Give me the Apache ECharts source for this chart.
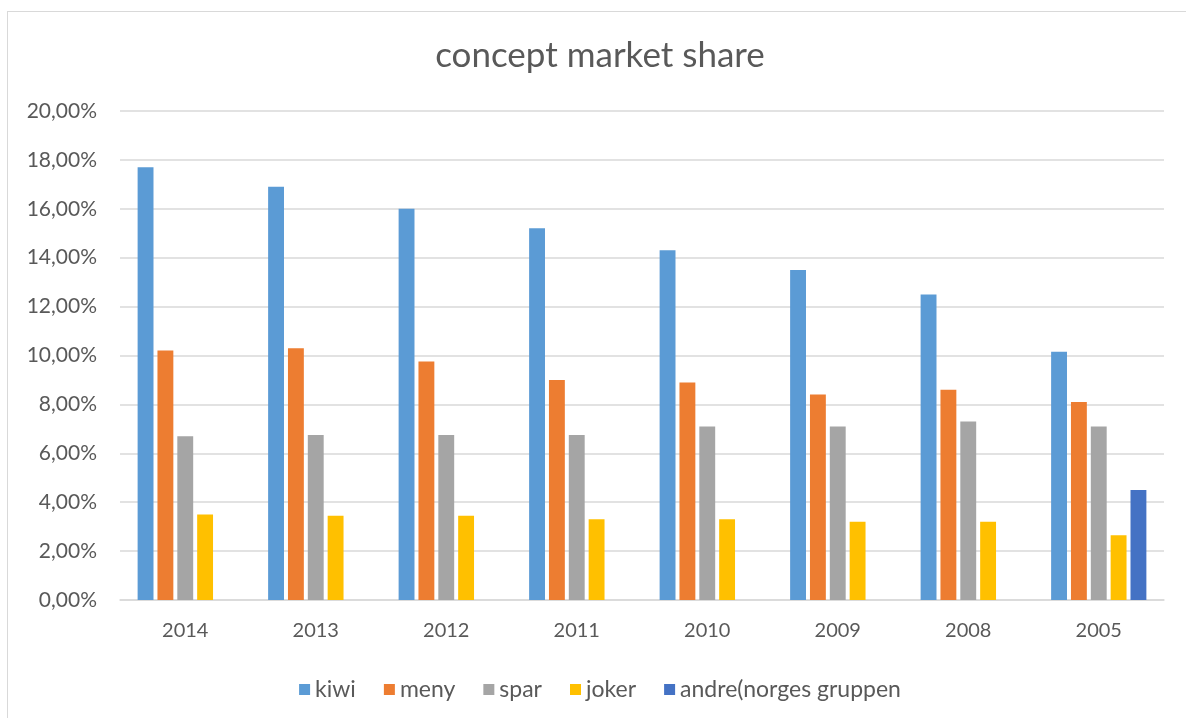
<!DOCTYPE html>
<html>
<head>
<meta charset="utf-8">
<script src="https://cdn.jsdelivr.net/npm/echarts@6/dist/echarts.min.js"></script>
<style>
  html, body { margin: 0; padding: 0; background: #fff; overflow: hidden; }
  #chart { position: absolute; left: 7px; top: 11px; width: 1186px; height: 718px; border: 1px solid #d9d9d9; box-sizing: border-box; }
</style>
</head>
<body>
<div id="chart"></div>
<script>
// data (percent)
var years = ['2014', '2013', '2012', '2011', '2010', '2009', '2008', '2005'];
var kiwi  = [17.7, 16.9, 16.0, 15.2, 14.3, 13.5, 12.5, 10.15];
var meny  = [10.2, 10.3, 9.75, 9.0, 8.9, 8.4, 8.6, 8.1];
var spar  = [6.7, 6.75, 6.75, 6.75, 7.1, 7.1, 7.3, 7.1];
var joker = [3.5, 3.45, 3.45, 3.3, 3.3, 3.2, 3.2, 2.65];
var andre = [null, null, null, null, null, null, null, 4.5];
var yTicks = [0, 2, 4, 6, 8, 10, 12, 14, 16, 18, 20];

var names  = ['kiwi', 'meny', 'spar', 'joker', 'andre(norges gruppen'];
var colors = ['#5b9bd5', '#ed7d31', '#a5a5a5', '#ffc000', '#4472c4'];
var values = [kiwi, meny, spar, joker, andre];

var font = 'Lato, "Open Sans", sans-serif';

var chart = echarts.init(document.getElementById('chart'), null, { renderer: 'canvas' });

var series = names.map(function (n, i) {
  return {
    name: n,
    type: 'bar',
    data: values[i],
    barGap: '25%',
    barCategoryGap: '27%',
    itemStyle: { color: colors[i] },
    silent: true
  };
});

chart.setOption({
  animation: false,
  color: colors,
  title: {
    text: 'concept market share',
    left: 'center',
    top: 21,
    textStyle: { fontFamily: font, fontSize: 35, fontWeight: 'normal', color: '#595959' }
  },
  legend: {
    data: names,
    bottom: 22,
    left: 'center',
    icon: 'rect',
    itemWidth: 11,
    itemHeight: 11,
    itemGap: 28,
    selectedMode: false,
    textStyle: { fontFamily: font, fontSize: 23, color: '#595959' }
  },
  grid: { left: 112, right: 28, top: 99, bottom: 128, containLabel: false },
  xAxis: {
    type: 'category',
    data: years,
    axisTick: { show: false },
    axisLine: { lineStyle: { color: '#d9d9d9', width: 1.5 } },
    axisLabel: { fontFamily: font, fontSize: 20, color: '#595959', margin: 21 }
  },
  yAxis: {
    type: 'value',
    min: yTicks[0],
    max: yTicks[yTicks.length - 1],
    interval: 2,
    axisLine: { show: false },
    axisTick: { show: false },
    splitLine: { lineStyle: { color: '#d9d9d9', width: 1.5 } },
    axisLabel: {
      fontFamily: font, fontSize: 21, color: '#595959', margin: 23,
      formatter: function (v) { return v.toFixed(2).replace('.', ',') + '%'; }
    }
  },
  series: series
});
</script>
</body>
</html>
